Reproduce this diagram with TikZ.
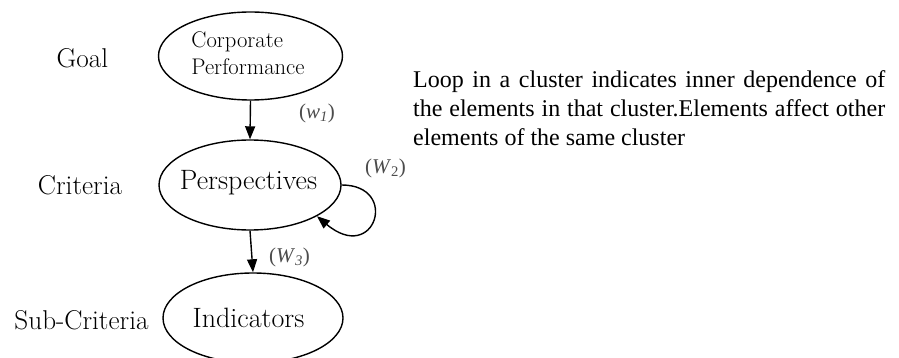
\documentclass[tikz,border=0pt]{standalone}
\usepackage{fontspec}
\newfontfamily\timesfont{Liberation Serif}
\usetikzlibrary{shapes.geometric,arrows.meta}
\tikzset{
  cluster/.style={draw, ellipse, line width=1.4pt, inner sep=0pt},
  celltext/.style={inner sep=0pt, font=\fontsize{28}{30}\selectfont},
  level/.style={inner sep=0pt, font=\fontsize{27.2}{30}\selectfont},
  weight/.style={inner sep=0pt, text=black!70, font=\timesfont\fontsize{21}{25}\selectfont},
  link/.style={line width=1.4pt, -{Triangle[length=13pt,width=10pt]}},
  note/.style={inner sep=0pt, anchor=base west, font=\timesfont\fontsize{24}{29}\selectfont}
}
\begin{document}
\begin{tikzpicture}[x=1pt,y=-1pt]
\clip (0,0) rectangle (899,358);
\fill[white] (0,0) rectangle (899,358);
% clusters
\node[cluster, minimum width=184pt, minimum height=88pt] (e1) at (250.5,56) {};
\node[cluster, minimum width=182pt, minimum height=90pt] (e2) at (250,185) {};
\node[cluster, minimum width=180pt, minimum height=90pt] (e3) at (253,318) {};
% texts in clusters
\node[inner sep=0pt, align=left, font=\fontsize{22.6}{27}\selectfont] (t1) at (248,53.5) {Corporate\\Performance};
\node[celltext] (t2) at (248.5,183) {Perspectives};
\node[celltext] (t3) at (248.5,318) {Indicators};
% level labels
\node[level] (g) at (82.5,58) {Goal};
\node[level] (c) at (80,185) {Criteria};
\node[level] (s) at (81.5,320) {Sub-Criteria};
% connectors
\draw[link] (e1.south) -- (e2.north);
\draw[link] (e2.south) -- (e3.north);
\draw[link] (e2.east) .. controls (400,185) and (375,265) .. (e2.-25);
% weights
\node[weight] (w1) at (317,113) {(\textit{w}\textsubscript{\textit{1}})};
\node[weight] (w2) at (385.5,168) {(\textit{W}\textsubscript{2})};
\node[weight] (w3) at (289.5,257) {(\textit{W}\textsubscript{\textit{3}})};
% note
\node[note] (n) at (413,88) {\parbox[t]{472pt}{Loop in a cluster indicates inner dependence of\linebreak the elements in that cluster.Elements affect other\linebreak elements of the same cluster}};
\end{tikzpicture}
\end{document}
